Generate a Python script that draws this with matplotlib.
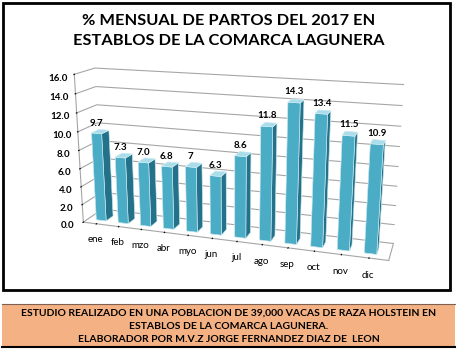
import numpy as np
import matplotlib
matplotlib.use("Agg")
import matplotlib.pyplot as plt
from matplotlib.patches import Rectangle

# datos
meses = ["ene", "feb", "mzo", "abr", "myo", "jun", "jul", "ago", "sep", "oct", "nov", "dic"]
porcentajes = [9.7, 7.3, 7.0, 6.8, 7.0, 6.3, 8.6, 11.8, 14.3, 13.4, 11.5, 10.9]
etiquetas = ["9.7", "7.3", "7.0", "6.8", "7", "6.3", "8.6", "11.8", "14.3", "13.4", "11.5", "10.9"]
yticks = [0, 2, 4, 6, 8, 10, 12, 14, 16]

titulo = "% MENSUAL DE PARTOS DEL 2017 EN\nESTABLOS DE LA COMARCA LAGUNERA"
nota = ["ESTUDIO REALIZADO EN UNA POBLACION DE 39,000 VACAS DE RAZA HOLSTEIN EN",
        "ESTABLOS DE LA COMARCA LAGUNERA.",
        "ELABORADOR POR M.V.Z JORGE FERNANDEZ DIAZ DE  LEON"]

W, H = 457, 351
fig = plt.figure(figsize=(W / 100, H / 100), dpi=100)
fig.patch.set_facecolor("white")

# marco negro del grafico
fig.add_artist(Rectangle((3 / W, 1 - 290 / H), 447 / W, 287 / H, transform=fig.transFigure,
                         fill=False, edgecolor="black", linewidth=2))
# recuadro naranja de la nota
fig.add_artist(Rectangle((2 / W, 1 - 347 / H), 453 / W, 43 / H, transform=fig.transFigure,
                         facecolor="#F4B183", edgecolor="none"))
fig.add_artist(plt.Line2D([2 / W, 455 / W], [1 - 304 / H] * 2, transform=fig.transFigure,
                          color="#7f6050", linewidth=0.8))
fig.add_artist(plt.Line2D([2 / W, 455 / W], [1 - 347 / H] * 2, transform=fig.transFigure,
                          color="black", linewidth=1.5))

fig.text(0.5, 1 - 31 / H, titulo, ha="center", va="center", fontsize=11.8,
         fontweight="bold", family="Lato", linespacing=1.6)
for i, linea in enumerate(nota):
    fig.text(0.5, 1 - (313 + 13.5 * i) / H, linea, ha="center", va="center",
             fontsize=7.45, fontweight="bold", family="Lato")

ax = fig.add_axes([0.0, 0.118, 1.0, 0.84], projection="3d")
ax.set_proj_type("persp", focal_length=0.45)
ax.view_init(elev=16, azim=-72)
ax.set_box_aspect((12, 1.6, 5.94), zoom=1.19)

x = np.arange(len(meses))
n = len(meses)
dx, dy = 0.45, 0.45
fc = []
for _ in range(n):
    # -z, +z, -y, +y, -x, +x
    fc += ["#4BACC6", "#A9DDEA", "#4BACC6", "#4BACC6", "#4BACC6", "#24728A"]
barras = ax.bar3d(x - dx / 2, np.full(n, 0.3), np.zeros(n), dx, dy, porcentajes,
                  color=fc, shade=False, edgecolor="#DDF1F6", linewidth=0.4)
# el eje 3d es cuadrado, sin esto se recorta la ultima barra
barras.set_clip_on(False)

for xi, v, t in zip(x, porcentajes, etiquetas):
    ax.text(xi, 0.3, v + 0.6, t, ha="center", va="bottom", fontsize=7,
            fontweight="bold", family="Lato", zorder=10)

ax.set_xlim(-0.6, n - 0.3)
ax.set_ylim(0, 1.2)
ax.set_zlim(0, 16)
ax.set_xticks(x)
ax.set_xticklabels(meses, fontsize=7, family="Lato")
ax.set_zticks(yticks)
ax.set_zticklabels([f"{t:.1f}" for t in yticks], fontsize=7, fontweight="bold", family="Lato")
ax.set_yticks([])
ax.zaxis.set_ticks_position("lower")

for a in (ax.xaxis, ax.yaxis, ax.zaxis):
    a.set_pane_color((1, 1, 1, 0))
    a._axinfo["grid"].update(color="#A6A6A6", linewidth=0.8)
    a.line.set_color("#A6A6A6")
ax.xaxis._axinfo["grid"].update(color=(1, 1, 1, 0))
ax.yaxis._axinfo["grid"].update(color=(1, 1, 1, 0))
ax.tick_params(axis="x", pad=0)
ax.tick_params(axis="z", pad=-2)

fig.savefig("out.png", dpi=100)
